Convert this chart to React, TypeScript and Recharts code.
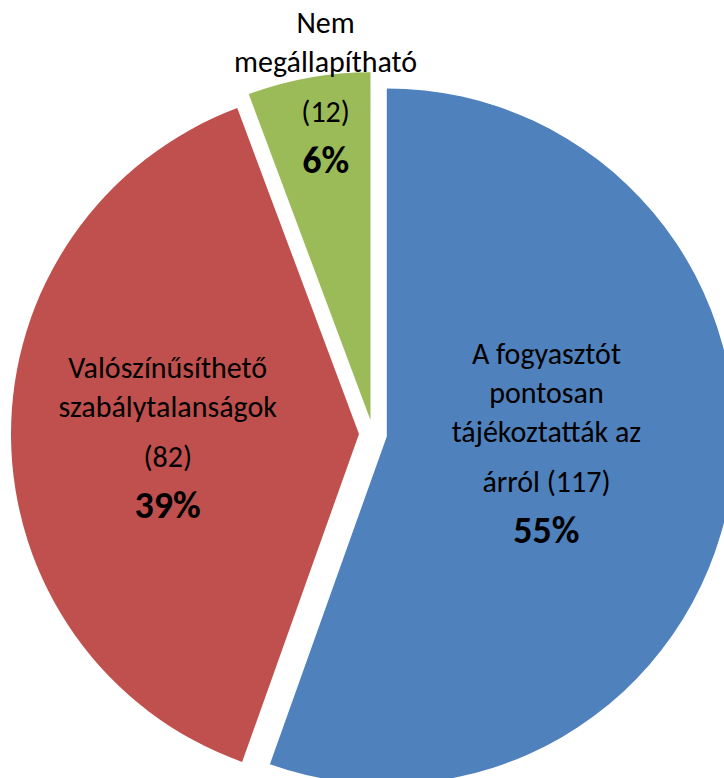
import { Pie, PieChart, Sector, Cell } from "recharts";

const CATEGORIES = [
  "A fogyasztót pontosan tájékoztatták az árról",
  "Valószínűsíthető szabálytalanságok",
  "Nem megállapítható",
];
const VALUES = [117, 82, 12];
const COLORS = ["#4F81BD", "#C0504D", "#9BBB59"];
const NAME_LINES = [
  ["A fogyasztót", "pontosan", "tájékoztatták az"],
  ["Valószínűsíthető", "szabálytalanságok"],
  ["Nem", "megállapítható"],
];
const COUNT_PREFIX = ["árról ", "", ""];

const TOTAL = VALUES.reduce((s, v) => s + v, 0);
const data = CATEGORIES.map((name, i) => ({ name, value: VALUES[i], idx: i }));

const RAD = Math.PI / 180;
const EXPLODE = 14;
// label block placement: radius as share of outerRadius, plus a small nudge
const LABEL_LAYOUT = [
  { k: 0.5, dx: 2, dy: -10 },
  { k: 0.59, dx: 0, dy: 12 },
  { k: 0.96, dx: 12, dy: -2 },
];
const FONT = "Carlito, Calibri, Lato, sans-serif";

function ExplodedSector(props: any) {
  const { cx, cy, midAngle } = props;
  const ox = EXPLODE * Math.cos(-midAngle * RAD);
  const oy = EXPLODE * Math.sin(-midAngle * RAD);
  return <Sector {...props} cx={cx + ox} cy={cy + oy} stroke="none" />;
}

function SliceLabel(props: any) {
  const { cx, cy, midAngle, outerRadius, index } = props;
  const lay = LABEL_LAYOUT[index];
  const r = outerRadius * lay.k;
  const x = cx + r * Math.cos(-midAngle * RAD) + lay.dx;
  const yc = cy + r * Math.sin(-midAngle * RAD) + lay.dy;
  const names = NAME_LINES[index];
  const lines: { text: string; gap: number; bold?: boolean }[] = names.map((t, j) => ({
    text: t,
    gap: j === 0 ? 0 : 39,
  }));
  lines.push({ text: `${COUNT_PREFIX[index]}(${VALUES[index]})`, gap: 50 });
  lines.push({ text: `${Math.round((VALUES[index] / TOTAL) * 100)}%`, gap: 51, bold: true });
  const height = lines.reduce((s, l) => s + l.gap, 0);
  let y = yc - height / 2;
  return (
    <text x={x} textAnchor="middle" fill="#000" style={{ fontFamily: FONT }}>
      {lines.map((l, j) => {
        y += l.gap;
        return (
          <tspan
            key={j}
            x={x}
            y={y}
            fontSize={l.bold ? 38 : 30}
            fontWeight={l.bold ? 700 : 400}
          >
            {l.text}
          </tspan>
        );
      })}
    </text>
  );
}

export default function App() {
  return (
    <div style={{ position: "absolute", left: 0, top: 0, width: 724, height: 778, background: "#fff" }}>
      <PieChart width={724} height={778} margin={{ top: 0, right: 0, bottom: 0, left: 0 }}>
        <Pie
          data={data}
          dataKey="value"
          nameKey="name"
          cx={373}
          cy={434}
          outerRadius={348}
          startAngle={90}
          endAngle={-270}
          stroke="none"
          isAnimationActive={false}
          shape={ExplodedSector}
          label={SliceLabel}
          labelLine={false}
        >
          {data.map((d) => (
            <Cell key={d.name} fill={COLORS[d.idx]} />
          ))}
        </Pie>
      </PieChart>
    </div>
  );
}
